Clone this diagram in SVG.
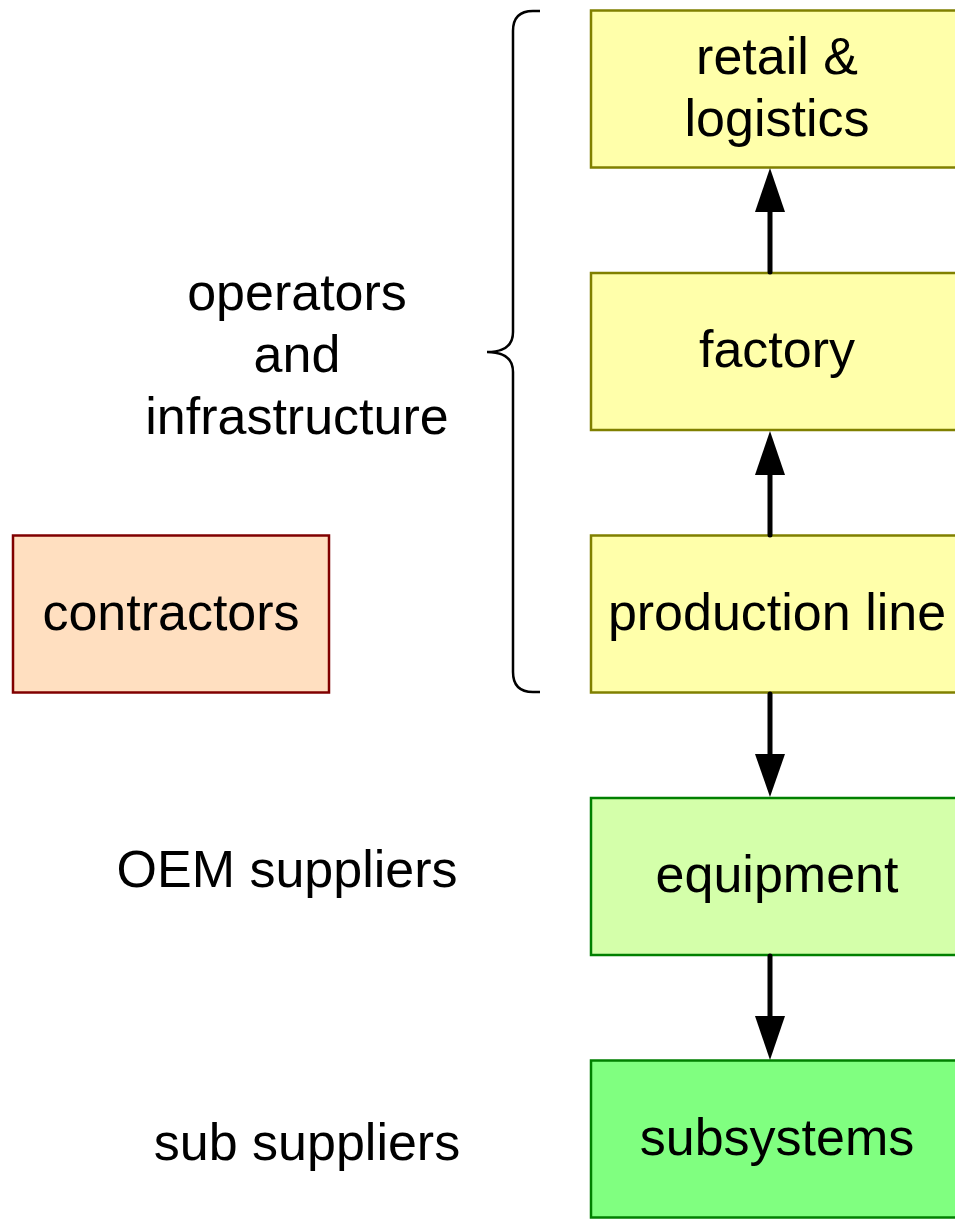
<svg xmlns="http://www.w3.org/2000/svg" width="955" height="1219" viewBox="0 0 955 1219">
<style>
text{font-family:"Liberation Sans",Arial,sans-serif;font-size:52px;fill:#000;text-anchor:middle}
.y{fill:#ffffaa;stroke:#808000;stroke-width:2.5}
.c{fill:#ffdfc0;stroke:#800000;stroke-width:2.5}
.g1{fill:#d4ffaa;stroke:#008000;stroke-width:2.5}
.g2{fill:#80ff80;stroke:#008000;stroke-width:2.5}
.e{stroke:#000;stroke-width:5;fill:none;stroke-linecap:round}
.h{fill:#000}
</style>
<g id="brace"><path d="M540,11 H533 Q513,11 513,31 V332 Q513,352 487,352 Q513,352 513,372 V672 Q513,692 533,692 H540" fill="none" stroke="#000" stroke-width="2.5"/></g>
<g id="retail"><rect class="y" x="591" y="10.5" width="372" height="157"/><text x="777" y="74">retail &amp;</text><text x="777" y="136">logistics</text></g>
<g id="factory"><rect class="y" x="591" y="273" width="372" height="157"/><text x="777" y="367">factory</text></g>
<g id="production"><rect class="y" x="591" y="535.5" width="372" height="157"/><text x="777" y="630">production line</text></g>
<g id="equipment"><rect class="g1" x="591" y="798" width="372" height="157"/><text x="777" y="892">equipment</text></g>
<g id="subsystems"><rect class="g2" x="591" y="1060.5" width="372" height="157"/><text x="777" y="1155">subsystems</text></g>
<g id="contractors"><rect class="c" x="13" y="535.5" width="316" height="157"/><text x="171" y="630">contractors</text></g>
<g id="labels">
<text x="297" y="310">operators</text><text x="297" y="372">and</text><text x="297" y="434">infrastructure</text>
<text x="287" y="887">OEM suppliers</text>
<text x="307" y="1160">sub suppliers</text>
</g>
<g id="connectors">
<line class="e" x1="770" y1="272" x2="770" y2="210"/><path class="h" d="M770,168 L785,212 L755,212 Z"/>
<line class="e" x1="770" y1="535" x2="770" y2="473"/><path class="h" d="M770,431 L785,475 L755,475 Z"/>
<line class="e" x1="770" y1="694" x2="770" y2="756"/><path class="h" d="M770,797 L785,754 L755,754 Z"/>
<line class="e" x1="770" y1="956" x2="770" y2="1018"/><path class="h" d="M770,1060 L785,1016 L755,1016 Z"/>
</g>
</svg>
